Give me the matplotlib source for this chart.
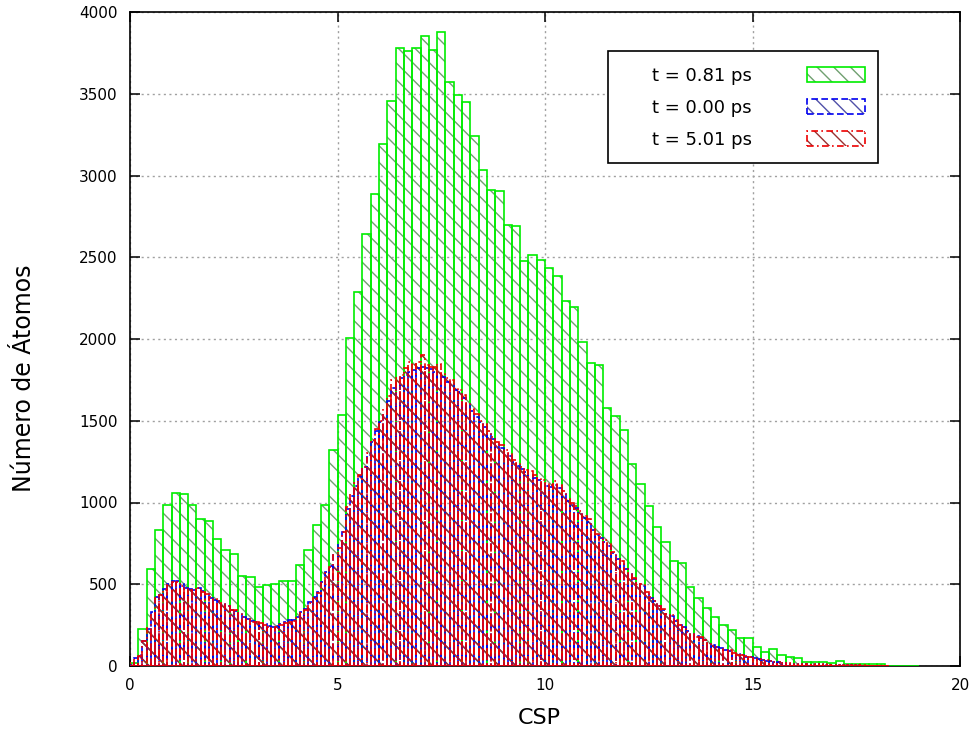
import numpy as np
import matplotlib
matplotlib.use("Agg")
import matplotlib.pyplot as plt
from matplotlib.patches import Patch, Rectangle

# histogram of CSP values, three snapshots
# green: bins of 0.2, starting at 0
cnt_081 = [20, 225, 595, 832, 985, 1060, 1050, 985, 901, 889,
           777, 710, 683, 550, 546, 481, 493, 503, 522, 522,
           618, 712, 862, 987, 1319, 1537, 2004, 2287, 2640, 2889,
           3190, 3458, 3778, 3759, 3778, 3855, 3770, 3875, 3570, 3495,
           3448, 3240, 3036, 2913, 2905, 2695, 2691, 2479, 2516, 2483,
           2432, 2383, 2231, 2196, 1982, 1851, 1841, 1576, 1529, 1443,
           1235, 1111, 979, 852, 758, 644, 628, 481, 418, 353,
           300, 250, 220, 171, 171, 114, 88, 102, 67, 57,
           47, 27, 27, 27, 20, 32, 12, 12, 12, 12,
           10, 3, 2, 1, 1]

# blue and red: bins of 0.1, starting at 0
cnt_000 = [18, 50, 70, 155, 225, 330, 420, 440, 470, 500,
           520, 518, 500, 478, 470, 462, 480, 458, 445, 418,
           405, 398, 380, 365, 345, 338, 322, 300, 288, 275,
           268, 262, 255, 245, 238, 245, 258, 268, 280, 284,
           300, 330, 350, 390, 425, 455, 515, 575, 612, 680,
           745, 820, 960, 1040, 1100, 1160, 1215, 1290, 1370, 1440,
           1490, 1540, 1620, 1700, 1730, 1760, 1780, 1800, 1810, 1820,
           1830, 1825, 1815, 1800, 1795, 1770, 1740, 1730, 1690, 1675,
           1640, 1600, 1560, 1520, 1490, 1460, 1420, 1390, 1355, 1335,
           1305, 1285, 1250, 1225, 1205, 1185, 1170, 1150, 1135, 1120,
           1100, 1095, 1110, 1090, 1055, 1010, 985, 965, 935, 905,
           880, 830, 800, 780, 760, 735, 690, 655, 630, 595,
           560, 535, 505, 490, 445, 415, 395, 365, 345, 318,
           305, 278, 252, 238, 212, 198, 182, 172, 158, 142,
           128, 118, 108, 98, 92, 82, 72, 66, 58, 52,
           48, 44, 36, 33, 30, 26, 24, 20, 18, 15,
           13, 12, 12, 11, 11, 10, 10, 9, 9, 8,
           7, 6, 6, 5, 5, 4, 3, 3, 2, 2,
           2, 1, 1]

cnt_501 = [20, 45, 60, 150, 235, 320, 414, 434, 465, 495,
           516, 516, 490, 480, 465, 468, 475, 455, 440, 420,
           410, 395, 383, 370, 340, 342, 326, 302, 285, 271,
           271, 261, 251, 241, 230, 241, 251, 261, 271, 275,
           296, 322, 342, 383, 414, 444, 506, 567, 608, 680,
           720, 820, 975, 1050, 1117, 1170, 1220, 1300, 1382, 1450,
           1500, 1570, 1650, 1750, 1760, 1780, 1820, 1860, 1850, 1860,
           1905, 1840, 1830, 1830, 1850, 1790, 1760, 1750, 1700, 1690,
           1660, 1610, 1570, 1540, 1500, 1480, 1440, 1400, 1370, 1350,
           1320, 1300, 1260, 1240, 1220, 1200, 1190, 1170, 1150, 1140,
           1120, 1110, 1130, 1110, 1070, 1020, 1000, 980, 950, 920,
           900, 840, 810, 790, 770, 750, 700, 660, 640, 600,
           570, 540, 510, 500, 450, 420, 400, 370, 350, 320,
           310, 280, 250, 240, 210, 195, 180, 175, 160, 140,
           125, 115, 105, 100, 95, 80, 70, 65, 60, 55,
           50, 42, 38, 35, 30, 27, 25, 20, 17, 16,
           14, 13, 12, 12, 11, 11, 10, 10, 9, 9,
           7, 7, 6, 6, 5, 4, 4, 3, 3, 2,
           2, 1, 1]

labels = ["t = 0.81 ps", "t = 0.00 ps", "t = 5.01 ps"]

plt.rcParams['font.family'] = ['DejaVu Sans']
plt.rcParams['hatch.linewidth'] = 1.0

fig = plt.figure(figsize=(9.76, 7.38), dpi=100)
ax = fig.add_axes([130/976, 72/738, 830/976, 654/738])

x_g = np.arange(len(cnt_081)) * 0.2
x_b = np.arange(len(cnt_000)) * 0.1
x_r = np.arange(len(cnt_501)) * 0.1

HATCH = '\\\\'
series = [
    (x_g, cnt_081, 0.2, '#00ee00', '#70a070', '-'),
    (x_b, cnt_000, 0.1, '#0000ee', '#5050a8', (0, (4, 2))),
    (x_r, cnt_501, 0.1, '#ee0000', '#9a3030', (0, (4, 2, 1, 2))),
]

handles = []
for (xs, ys, w, col, hcol, ls), lab in zip(series, labels):
    ax.bar(xs, ys, width=w, align='edge', fill=False, edgecolor=hcol,
           linewidth=0, hatch=HATCH, zorder=2)
    ax.bar(xs, ys, width=w, align='edge', fill=False, edgecolor=col,
           linewidth=1.2, linestyle=ls, zorder=3)
    h1 = Patch(fill=False, edgecolor=hcol, linewidth=0, hatch=HATCH)
    h2 = Patch(fill=False, edgecolor=col, linewidth=1.2, linestyle=ls)
    handles.append((h1, h2))

ax.set_xlim(0, 20)
ax.set_ylim(0, 4000)
ax.set_xticks([0, 5, 10, 15, 20])
ax.set_yticks(np.arange(0, 4001, 500))
ax.tick_params(direction='in', length=7, width=1.1, top=True, right=True,
               labelsize=11, pad=9)
ax.grid(True, color='#a0a0a0', linestyle=(0, (1.5, 2.5)), linewidth=1.0)
ax.set_axisbelow(True)
for sp in ax.spines.values():
    sp.set_linewidth(1.2)

ax.set_xlabel('CSP', fontsize=16)
ax.set_ylabel('Número de Átomos', fontsize=17)
ax.xaxis.set_label_coords(0.493, -0.064)
ax.yaxis.set_label_coords(-0.113, 0.44)

# legend box drawn by hand (text sits right-aligned far from the left edge)
ax.add_patch(Rectangle((0.5759, 0.7691), 0.3253, 0.1713, transform=ax.transAxes,
                       facecolor='white', edgecolor='black', linewidth=1.2, zorder=5))
leg = ax.legend(handles, labels, loc='upper left', bbox_to_anchor=(0.629, 0.916),
                frameon=False, markerfirst=False, fontsize=13, borderpad=0,
                handlelength=3.2, handleheight=0.9, handletextpad=3.05,
                labelspacing=0.77, borderaxespad=0)
leg.set_zorder(6)

fig.savefig('out.png', dpi=100)
